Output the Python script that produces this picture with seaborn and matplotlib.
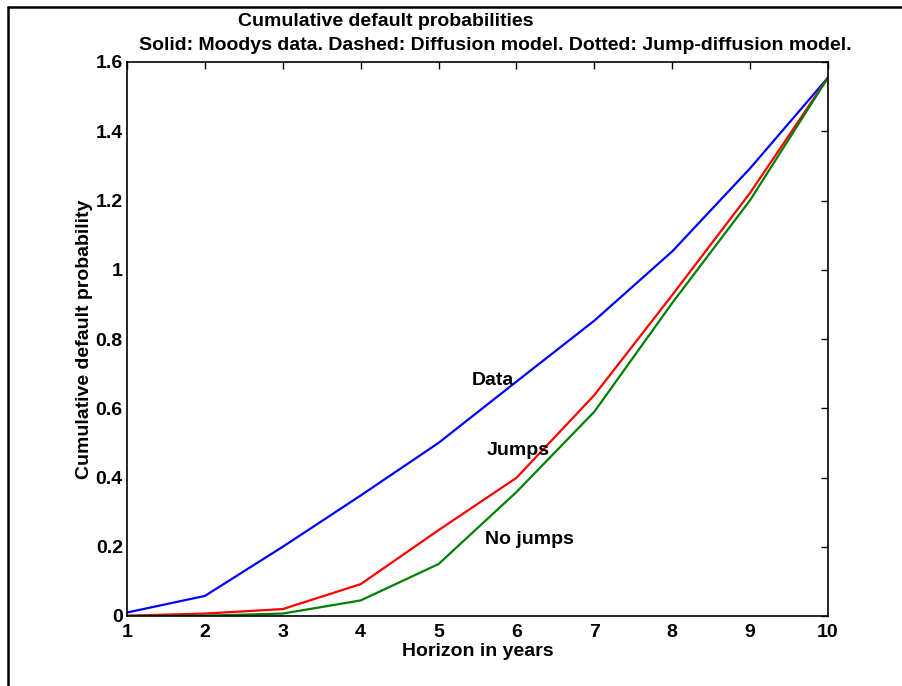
import numpy as np
import pandas as pd
import matplotlib
matplotlib.use("Agg")
import matplotlib.pyplot as plt
import seaborn as sns
from matplotlib.lines import Line2D

years = [1, 2, 3, 4, 5, 6, 7, 8, 9, 10]
data_vals = [0.010, 0.058, 0.200, 0.348, 0.500, 0.677, 0.853, 1.053, 1.293, 1.555]
jumps_vals = [0.001, 0.007, 0.020, 0.092, 0.248, 0.399, 0.638, 0.927, 1.222, 1.555]
nojumps_vals = [0.000, 0.001, 0.007, 0.045, 0.150, 0.358, 0.590, 0.904, 1.201, 1.555]
series_names = ["Data", "Jumps", "No jumps"]
series_colors = ["#0000ff", "#ff0000", "#008000"]
yticks = [0, 0.2, 0.4, 0.6, 0.8, 1.0, 1.2, 1.4, 1.6]
ytick_labels = ["0", "0.2", "0.4", "0.6", "0.8", "1", "1.2", "1.4", "1.6"]
xticks = years
xtick_labels = [str(v) for v in years]

df = pd.DataFrame({
    "year": years * 3,
    "prob": data_vals + jumps_vals + nojumps_vals,
    "series": [series_names[0]] * 10 + [series_names[1]] * 10 + [series_names[2]] * 10,
})

sns.set_style("white")
plt.rcParams['font.family'] = ['Liberation Sans', 'DejaVu Sans']
plt.rcParams['font.weight'] = 'bold'
for k in ['text.color', 'axes.labelcolor', 'xtick.color', 'ytick.color']:
    plt.rcParams[k] = 'black'

FS = 14
fig = plt.figure(figsize=(9.03, 6.86), dpi=100)
W, H = 903, 686
ax = fig.add_axes([127 / W, 1 - 616 / H, (828 - 127) / W, (616 - 62) / H])

sns.lineplot(data=df, x="year", y="prob", hue="series", palette=series_colors,
             hue_order=series_names, ax=ax, linewidth=1.6, legend=False)

ax.set_xlim(1, 10)
ax.set_ylim(0, 1.6)
ax.set_xticks(xticks)
ax.set_xticklabels(xtick_labels, fontsize=FS, fontweight='bold')
ax.set_yticks(yticks)
ax.set_yticklabels(ytick_labels, fontsize=FS, fontweight='bold')
ax.tick_params(direction='in', length=5, width=1, top=True, right=True, colors='black')
ax.tick_params(axis='x', pad=6)
ax.tick_params(axis='y', pad=3)
for s in ax.spines.values():
    s.set_visible(True)
    s.set_color('black')
    s.set_linewidth(1.2)

ax.set_xlabel("Horizon in years", fontsize=FS, fontweight='bold', labelpad=1)
ax.set_ylabel("Cumulative default probability", fontsize=FS, fontweight='bold', labelpad=2)

ax.text(5.42, 0.679, "Data", fontsize=FS, fontweight='bold', va='center', ha='left')
ax.text(5.62, 0.479, "Jumps", fontsize=FS, fontweight='bold', va='center', ha='left')
ax.text(5.60, 0.220, "No jumps", fontsize=FS, fontweight='bold', va='center', ha='left')

fig.text(386 / W, 1 - 21 / H, "Cumulative default probabilities", fontsize=FS,
         fontweight='bold', ha='center', va='center')
fig.text(495 / W, 1 - 46 / H,
         "Solid: Moodys data. Dashed: Diffusion model. Dotted: Jump-diffusion model.",
         fontsize=FS, fontweight='bold', ha='center', va='center')

fig.add_artist(Line2D([7.5 / W, 7.5 / W], [0, 1 - 6.5 / H], transform=fig.transFigure,
                      color='black', linewidth=1.8))
fig.add_artist(Line2D([7.5 / W, 1], [1 - 6.5 / H, 1 - 6.5 / H], transform=fig.transFigure,
                      color='black', linewidth=1.8))

fig.savefig("out.png", dpi=100)
